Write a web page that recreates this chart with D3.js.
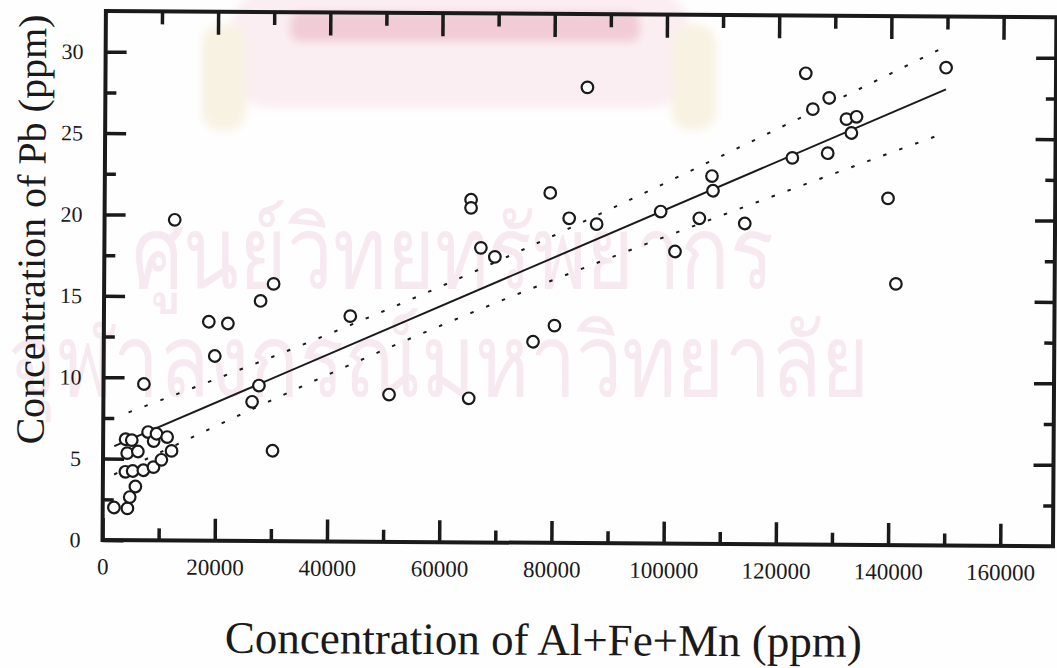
<!DOCTYPE html>
<html>
<head>
<meta charset="utf-8">
<script src="https://cdn.jsdelivr.net/npm/d3@7"></script>
<style>
  html, body { margin: 0; padding: 0; background: #fefefe; }
  svg { display: block; }
  text { font-family: "Liberation Serif", "Times New Roman", serif; fill: #1a1a1a; }
</style>
</head>
<body>
<svg id="chart" width="1057" height="668"></svg>
<script>
// Al+Fe+Mn (ppm) and Pb (ppm) for each sample
const alFeMn = [
  12500, 30200, 27900, 18700, 22100, 43900, 19800, 7200, 27700, 26500,
  50900, 30200, 65300, 65300, 79400, 82800, 87700, 99100, 101700, 67100,
  69600, 80300, 76500, 65100, 85900, 124800, 129000, 126100, 149800, 132100,
  133900, 133000, 122500, 128800, 108200, 108400, 106000, 114100, 139600, 141100,
  2000, 4400, 4800, 5800, 4000, 5300, 7200, 9000, 10400, 12200,
  4300, 6200, 4000, 5100, 8000, 9000, 9500, 11400
];
const pb = [
  19.7, 15.8, 14.75, 13.45, 13.35, 13.85, 11.35, 9.6, 9.55, 8.55,
  9.05, 5.55, 21.05, 20.55, 21.5, 19.95, 19.6, 20.4, 17.95, 18.1,
  17.55, 13.35, 12.35, 8.85, 28.0, 28.95, 27.45, 26.75, 29.35, 26.15,
  26.3, 25.3, 23.75, 24.05, 22.6, 21.7, 20.0, 19.7, 21.3, 16.05,
  2.0, 1.95, 2.65, 3.3, 4.2, 4.25, 4.3, 4.5, 4.95, 5.5,
  5.35, 5.45, 6.2, 6.15, 6.65, 6.1, 6.55, 6.35
];

// least-squares line and its confidence band, read at a few points
const fitX = [2000, 149800];
const fitY = [5.77, 28.02];
const bandX = [4500, 20000, 40000, 55000, 70000, 90000, 110000, 130000, 149800];
const bandUpper = [7.85, 9.93, 12.73, 14.95, 17.27, 20.51, 23.86, 27.26, 30.67];
const bandX2 = [2000, 20000, 40000, 55000, 70000, 90000, 110000, 130000, 149800];
const bandLower = [4.03, 7.03, 10.25, 12.56, 14.75, 17.52, 20.19, 22.81, 25.36];

const xMajor = [0, 20000, 40000, 60000, 80000, 100000, 120000, 140000, 160000];
const xMinor = [10000, 30000, 50000, 70000, 90000, 110000, 130000, 150000];
const yMajor = [0, 5, 10, 15, 20, 25, 30];
const yMinor = [2.5, 7.5, 12.5, 17.5, 22.5, 27.5];

const xTitle = "Concentration of Al+Fe+Mn (ppm)";
const yTitle = "Concentration of Pb (ppm)";
const watermark = ["ศูนย์วิทยทรัพยากร", "จุฬาลงกรณ์มหาวิทยาลัย"];

const L = 102.5, R = 1053, T = 11, B = 540;

const svg = d3.select("#chart");
const defs = svg.append("defs");
defs.append("filter").attr("id", "soft").attr("x", "-20%").attr("y", "-20%")
  .attr("width", "140%").attr("height", "140%")
  .append("feGaussianBlur").attr("stdDeviation", 4);

// faint library watermark behind the chart
const wm = svg.append("g").attr("pointer-events", "none");
const crest = wm.append("g").attr("filter", "url(#soft)");
crest.append("rect").attr("x", 230).attr("y", -10).attr("width", 460).attr("height", 118)
  .attr("rx", 40).attr("fill", "#fbeef2");
crest.append("rect").attr("x", 290).attr("y", 12).attr("width", 350).attr("height", 30)
  .attr("rx", 10).attr("fill", "#f1ccd7");
crest.append("rect").attr("x", 202).attr("y", 25).attr("width", 44).attr("height", 105)
  .attr("rx", 18).attr("fill", "#f8f2e2");
crest.append("rect").attr("x", 672).attr("y", 25).attr("width", 44).attr("height", 105)
  .attr("rx", 18).attr("fill", "#f8f2e2");
wm.append("text").attr("x", 132).attr("y", 288)
  .attr("textLength", 642).attr("lengthAdjust", "spacingAndGlyphs")
  .style("font-family", "'Noto Sans', 'DejaVu Sans', sans-serif")
  .style("font-size", "100px").style("fill", "#f7e9f0").text(watermark[0]);
wm.append("text").attr("x", 8).attr("y", 396)
  .attr("textLength", 862).attr("lengthAdjust", "spacingAndGlyphs")
  .style("font-family", "'Noto Sans', 'DejaVu Sans', sans-serif")
  .style("font-size", "100px").style("fill", "#f7e9f0").text(watermark[1]);

// the scanned page sits very slightly rotated
const g = svg.append("g").attr("transform", `rotate(0.37, ${L}, ${B})`);

const x = d3.scaleLinear().domain([0, 169400]).range([L, R]);
const y = d3.scaleLinear().domain([0, 32.5]).range([B, T]);

const ink = "#1a1a1a";

function styleAxis(sel) {
  sel.select(".domain").remove();
  sel.selectAll(".tick line").attr("stroke", ink).attr("stroke-width", 3.5);
}

// bottom axis with labels
g.append("g").attr("transform", `translate(0,${B})`)
  .call(d3.axisBottom(x).tickValues(xMajor).tickSize(-22).tickPadding(18).tickFormat(d3.format("d")))
  .call(styleAxis)
  .call(s => s.selectAll("text").style("font-size", "23px").attr("fill", ink)
    .style("font-family", "'Liberation Serif', serif"));
g.append("g").attr("transform", `translate(0,${B})`)
  .call(d3.axisBottom(x).tickValues(xMinor).tickSize(-12).tickFormat(""))
  .call(styleAxis);

// top axis, ticks only
g.append("g").attr("transform", `translate(0,${T})`)
  .call(d3.axisTop(x).tickValues(xMajor.filter(v => v > 0)).tickSize(-23).tickFormat(""))
  .call(styleAxis);
g.append("g").attr("transform", `translate(0,${T})`)
  .call(d3.axisTop(x).tickValues(xMinor).tickSize(-13).tickFormat(""))
  .call(styleAxis);

// left axis with labels
g.append("g").attr("transform", `translate(${L},0)`)
  .call(d3.axisLeft(y).tickValues(yMajor).tickSize(-21).tickPadding(22))
  .call(styleAxis)
  .call(s => s.selectAll("text").style("font-size", "22px").attr("fill", ink)
    .style("font-family", "'Liberation Serif', serif"));
g.append("g").attr("transform", `translate(${L},0)`)
  .call(d3.axisLeft(y).tickValues(yMinor).tickSize(-11).tickFormat(""))
  .call(styleAxis);

// right axis, ticks only
g.append("g").attr("transform", `translate(${R},0)`)
  .call(d3.axisRight(y).tickValues(yMajor.filter(v => v > 0)).tickSize(-20).tickFormat(""))
  .call(styleAxis);
g.append("g").attr("transform", `translate(${R},0)`)
  .call(d3.axisRight(y).tickValues(yMinor).tickSize(-10).tickFormat(""))
  .call(styleAxis);

// frame
g.append("rect").attr("x", L).attr("y", T).attr("width", R - L).attr("height", B - T)
  .attr("fill", "none").attr("stroke", ink).attr("stroke-width", 4);

// regression line
const fitLine = d3.line().x(d => x(d[0])).y(d => y(d[1]));
g.append("path").datum(d3.zip(fitX, fitY)).attr("d", fitLine)
  .attr("fill", "none").attr("stroke", ink).attr("stroke-width", 2);

// confidence band
const bandLine = d3.line().x(d => x(d[0])).y(d => y(d[1])).curve(d3.curveMonotoneX);
[[bandX, bandUpper], [bandX2, bandLower]].forEach(([bx, by]) => {
  g.append("path").datum(d3.zip(bx, by)).attr("d", bandLine)
    .attr("fill", "none").attr("stroke", ink).attr("stroke-width", 2)
    .attr("stroke-dasharray", "3.5,13.5");
});

// samples
g.append("g").selectAll("circle").data(d3.zip(alFeMn, pb)).join("circle")
  .attr("cx", d => x(d[0])).attr("cy", d => y(d[1])).attr("r", 5.8)
  .attr("fill", "#fefefe").attr("stroke", ink).attr("stroke-width", 2.2);

// axis titles
g.append("text").attr("x", 544).attr("y", 652).attr("text-anchor", "middle")
  .style("font-size", "45px").text(xTitle);
g.append("text").attr("transform", "translate(43,230) rotate(-90)").attr("text-anchor", "middle")
  .style("font-size", "40px").text(yTitle);
</script>
</body>
</html>
